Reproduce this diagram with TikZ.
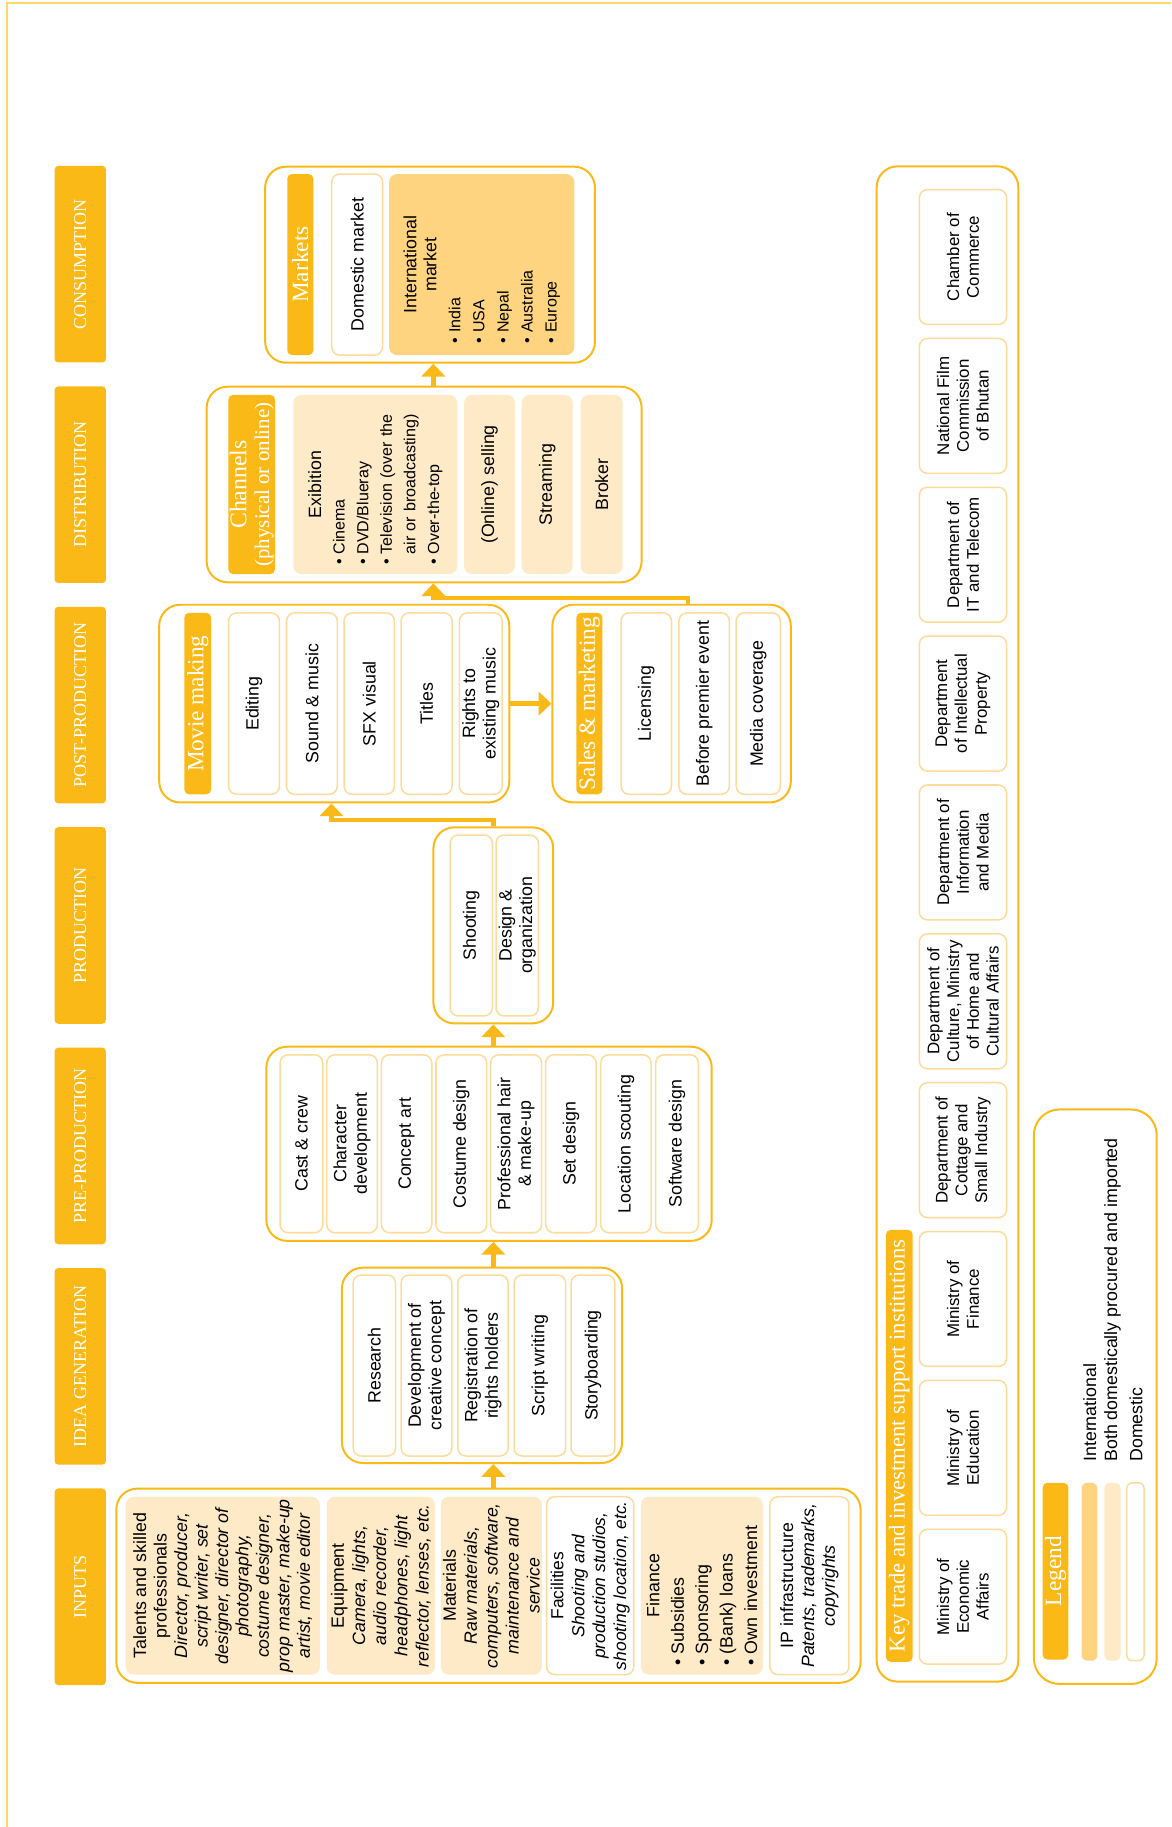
\documentclass[tikz,border=0pt]{standalone}
\usepackage{fontspec}
\setmainfont{Liberation Sans}
\newfontfamily\serifhd{Liberation Serif}
\usetikzlibrary{arrows.meta}
\definecolor{dorange}{RGB}{251,185,24}
\definecolor{morange}{RGB}{255,212,128}
\definecolor{lorange}{RGB}{254,234,198}
\definecolor{cellline}{RGB}{253,220,155}
\definecolor{pageline}{RGB}{255,217,102}
\newcommand\fsz[2]{\fontsize{#1}{#2}\selectfont}
\newcommand\bul{\textbullet\hspace{4pt}}
\tikzset{
  sz/.style 2 args={minimum height=#1pt, minimum width=#2pt},
  stagehdr/.style={rotate=90, fill=dorange, rounded corners=3pt, minimum width=169pt, minimum height=44pt, inner sep=0pt, text=white, font=\serifhd\fsz{15.5}{17}},
  outerbox/.style={draw=dorange, line width=1.7pt, rounded corners=18pt, inner sep=0pt},
  cell/.style={rotate=90, draw=cellline, line width=1.3pt, rounded corners=7pt, inner sep=0pt, align=center, fill=white, font=\fsz{15.3}{17.6}},
  lcell/.style={cell, fill=lorange, draw=none},
  mcell/.style={cell, fill=morange, draw=none},
  icell/.style={cell, font=\fsz{14.5}{17}},
  subhdr/.style={rotate=90, fill=dorange, rounded corners=4pt, inner sep=0pt, text=white, align=center, font=\serifhd\fsz{20}{21}},
  arr/.style={draw=dorange, line width=3.8pt, line join=miter, -{Triangle[width=20pt,length=11pt]}},
  lbl/.style={rotate=90, inner sep=0pt, font=\fsz{15.3}{17}},
}
\begin{document}
\begin{tikzpicture}[x=1pt,y=-1pt]
\useasboundingbox (0,0) rectangle (1007,1571);
% page border
\draw[pageline, line width=1.3pt] (5.8,1571) -- (5.8,2.8) -- (1007,2.8);

% stage headers
\node[stagehdr] (hcons) at (69,227.2) {CONSUMPTION};
\node[stagehdr] (hdist) at (69,416.8) {DISTRIBUTION};
\node[stagehdr] (hpost) at (69,606.3) {POST-PRODUCTION};
\node[stagehdr] (hprod) at (69,795.8) {PRODUCTION};
\node[stagehdr] (hpre) at (69,985.4) {PRE-PRODUCTION};
\node[stagehdr] (hidea) at (69,1174.9) {IDEA GENERATION};
\node[stagehdr] (hinp) at (69,1364.4) {INPUTS};

% outer boxes
\node[outerbox, minimum width=640pt, minimum height=167pt] (inp) at (420,1363.5) {};
\node[outerbox, minimum width=241pt, minimum height=168pt] (idea) at (414.5,1174) {};
\node[outerbox, minimum width=383pt, minimum height=167pt] (pre) at (420.5,983.5) {};
\node[outerbox, minimum width=103pt, minimum height=168.6pt] (prod) at (424.2,795.7) {};
\node[outerbox, minimum width=301pt, minimum height=170pt] (movie) at (287.4,605) {};
\node[outerbox, minimum width=205pt, minimum height=170pt] (sales) at (577.5,605) {};
\node[outerbox, minimum width=374pt, minimum height=168.2pt] (dist) at (364.7,416.6) {};
\node[outerbox, minimum width=283.6pt, minimum height=168.6pt] (cons) at (369.8,227.6) {};
\node[outerbox, minimum width=121.8pt, minimum height=1303pt] (key) at (814.7,794.5) {};
\node[outerbox, rounded corners=22pt, minimum width=105.6pt, minimum height=494pt] (legend) at (941.8,1201) {};

% INPUTS
\node[lcell, sz={167}{153}] (talents) at (191.5,1363.5) {Talents and skilled\\professionals\\\textit{Director, producer,}\\\textit{script writer, set}\\\textit{designer, director of}\\\textit{photography,}\\\textit{costume designer,}\\\textit{prop master, make-up}\\\textit{artist, movie editor}};
\node[lcell, sz={93}{153}, font=\fsz{15.3}{18.2}] (equip) at (327.5,1363.5) {Equipment\\\textit{Camera, lights,}\\\textit{audio recorder,}\\\textit{headphones, light}\\\textit{reflector, lenses, etc.}};
\node[lcell, sz={87}{153}, font=\fsz{15.3}{18}] (mater) at (422.5,1363.5) {Materials\\\textit{Raw materials,}\\\textit{computers, software,}\\\textit{maintenance and}\\\textit{service}};
\node[cell, sz={75}{153}, font=\fsz{15}{18}] (facil) at (507.5,1363.5) {Facilities\\\textit{Shooting and}\\\textit{production studios,}\\\textit{shooting location, etc.}};
\node[lcell, sz={105}{153}, align=left, text width=137pt, font=\fsz{15.3}{21}] (fin) at (603.5,1363.5) {\makebox[\linewidth]{Finance}\\\bul Subsidies\\\bul Sponsoring\\\bul (Bank) loans\\\bul Own investment};
\node[cell, sz={68}{153}, font=\fsz{15.3}{18}] (ipinf) at (696,1363.5) {IP infrastructure\\\textit{Patents, trademarks,}\\\textit{copyrights}};

% IDEA GENERATION
\node[cell, sz={36.6}{155.6}] (research) at (321.9,1174.2) {Research};
\node[cell, sz={43.7}{155.6}] (devcon) at (366.7,1174.2) {Development of\\creative concept};
\node[cell, sz={43.3}{155.6}] (regist) at (415.3,1174.2) {Registration of\\rights holders};
\node[cell, sz={44.4}{155.6}] (script) at (464.2,1174.2) {Script writing};
\node[cell, sz={37.8}{155.6}] (story) at (509.9,1174.2) {Storyboarding};

% PRE-PRODUCTION
\node[cell, sz={36.7}{153}] (cast) at (259.2,983.5) {Cast \& crew};
\node[cell, sz={43.5}{153}] (chardev) at (302.7,983.5) {Character\\development};
\node[cell, sz={43.3}{153}] (concept) at (349.6,983.5) {Concept art};
\node[cell, sz={43.6}{153}] (costume) at (396.7,983.5) {Costume design};
\node[cell, sz={43.8}{153}] (hair) at (443.8,983.5) {Professional hair\\\& make-up};
\node[cell, sz={43.3}{153}] (setd) at (490.9,983.5) {Set design};
\node[cell, sz={43.3}{153}] (locat) at (538.2,983.5) {Location scouting};
\node[cell, sz={36.7}{153}] (soft) at (582.2,983.5) {Software design};

% PRODUCTION
\node[cell, sz={36.3}{155.6}] (shoot) at (405.2,795.8) {Shooting};
\node[cell, sz={36.4}{155.6}] (design) at (444.7,795.8) {Design \&\\organization};

% POST-PRODUCTION
\node[subhdr, sz={23}{156}] (mmh) at (170,605) {Movie making};
\node[cell, sz={43.7}{156}] (edit) at (218.4,605) {Editing};
\node[cell, sz={43.7}{156}] (sound) at (268.2,605) {Sound \& music};
\node[cell, sz={43.4}{156}] (sfx) at (317.5,605) {SFX visual};
\node[cell, sz={43.8}{156}] (titles) at (366.8,605) {Titles};
\node[cell, sz={36.8}{156}] (rights) at (413.4,605) {Rights to\\existing music};
\node[subhdr, sz={22.5}{156}] (smh) at (506.8,605) {Sales \& marketing};
\node[cell, sz={43.4}{156}] (licen) at (555.7,605) {Licensing};
\node[cell, sz={43.4}{156}] (premier) at (605.5,605) {Before premier event};
\node[cell, sz={38}{156}] (media) at (652,605) {Media coverage};

% DISTRIBUTION
\node[subhdr, sz={40.2}{154}, font=\serifhd\fsz{18}{19.5}] (chh) at (216.4,416.6) {{\fsz{20.5}{19.5}Channels}\\(physical or online)};
\node[lcell, sz={141}{154}, align=left, text width=138pt, font=\fsz{13.8}{20.3}] (exib) at (322.7,416.6) {\makebox[\linewidth]{\fsz{15.3}{20.3}Exibition}\\\bul Cinema\\\bul DVD/Blueray\\\bul Television (over the\\\hphantom{\bul}air or broadcasting)\\\bul Over-the-top};
\node[lcell, sz={43.8}{154}] (online) at (420.9,416.6) {(Online) selling};
\node[lcell, sz={43.9}{154}] (stream) at (470.5,416.6) {Streaming};
\node[lcell, sz={36.1}{154}] (broker) at (517.4,416.6) {Broker};

% CONSUMPTION
\node[subhdr, sz={22.4}{155.7}] (mkh) at (258.2,227.5) {Markets};
\node[cell, sz={43.8}{155.7}] (domm) at (307.1,227.5) {Domestic market};
\node[mcell, sz={159.3}{155.7}, align=left, text width=135pt, font=\fsz{13.8}{20.7}] (intm) at (414.2,227.5) {\makebox[\linewidth]{\fsz{15.3}{20.7}International}\\[-3.5pt]\makebox[\linewidth]{\fsz{15.3}{20.7}market}\\\bul India\\\bul USA\\\bul Nepal\\\bul Australia\\\bul Europe};

% KEY INSTITUTIONS
\node[subhdr, sz={23}{371.4}, font=\serifhd\fsz{19.5}{21}] (keyh) at (773.3,1243.3) {Key trade and investment support institutions};
\node[icell, sz={75}{116}] (chamber) at (828,221) {Chamber of\\Commerce};
\node[icell, sz={75}{116}] (nfc) at (828,349) {National Film\\Commission\\of Bhutan};
\node[icell, sz={75}{116}] (dit) at (828,477) {Department of\\IT and Telecom};
\node[icell, sz={75}{116}] (dip) at (828,605) {Department\\of Intellectual\\Property};
\node[icell, sz={75}{116}] (dim) at (828,733) {Department of\\Information\\and Media};
\node[icell, sz={75}{116}] (dcult) at (828,861) {Department of\\Culture, Ministry\\of Home and\\Cultural Affairs};
\node[icell, sz={75}{116}] (dcot) at (828,989) {Department of\\Cottage and\\Small Industry};
\node[icell, sz={75}{116}] (mfin) at (828,1117) {Ministry of\\Finance};
\node[icell, sz={75}{116}] (medu) at (828,1245) {Ministry of\\Education};
\node[icell, sz={75}{116}] (mecon) at (828,1373) {Ministry of\\Economic\\Affairs};

% LEGEND
\node[subhdr, sz={22}{152}] (legh) at (907.6,1351) {Legend};
\node[mcell, rounded corners=5pt, sz={13.6}{153}] (swint) at (936.8,1351.5) {};
\node[lcell, rounded corners=5pt, sz={14}{153}] (swboth) at (956.6,1351.5) {};
\node[cell, rounded corners=5pt, sz={15}{153}] (swdom) at (976.3,1351.5) {};
\node[lbl, anchor=west] (lint) at (937,1257) {International};
\node[lbl, anchor=west] (lboth) at (956.7,1257) {Both domestically procured and imported};
\node[lbl, anchor=west] (ldom) at (976.8,1257) {Domestic};

% connectors
\coordinate (spine) at (424.2,0);
\coordinate (e1) at (285,705);
\coordinate (e2a) at (591.6,514);
\coordinate (e2) at (372.6,514);
\draw[arr] (inp.north -| spine) -- (idea.south -| spine);
\draw[arr] (idea.north -| spine) -- (pre.south -| spine);
\draw[arr] (pre.north -| spine) -- (prod.south -| spine);
\draw[arr] (prod.north) |- (e1) -- (movie.south -| e1);
\draw[arr] (movie.east) -- (sales.west);
\draw[arr] (sales.north -| e2a) -- (e2a) -- (e2) -- (dist.south -| e2);
\draw[arr] (dist.north -| e2) -- (cons.south -| e2);
\end{tikzpicture}
\end{document}
